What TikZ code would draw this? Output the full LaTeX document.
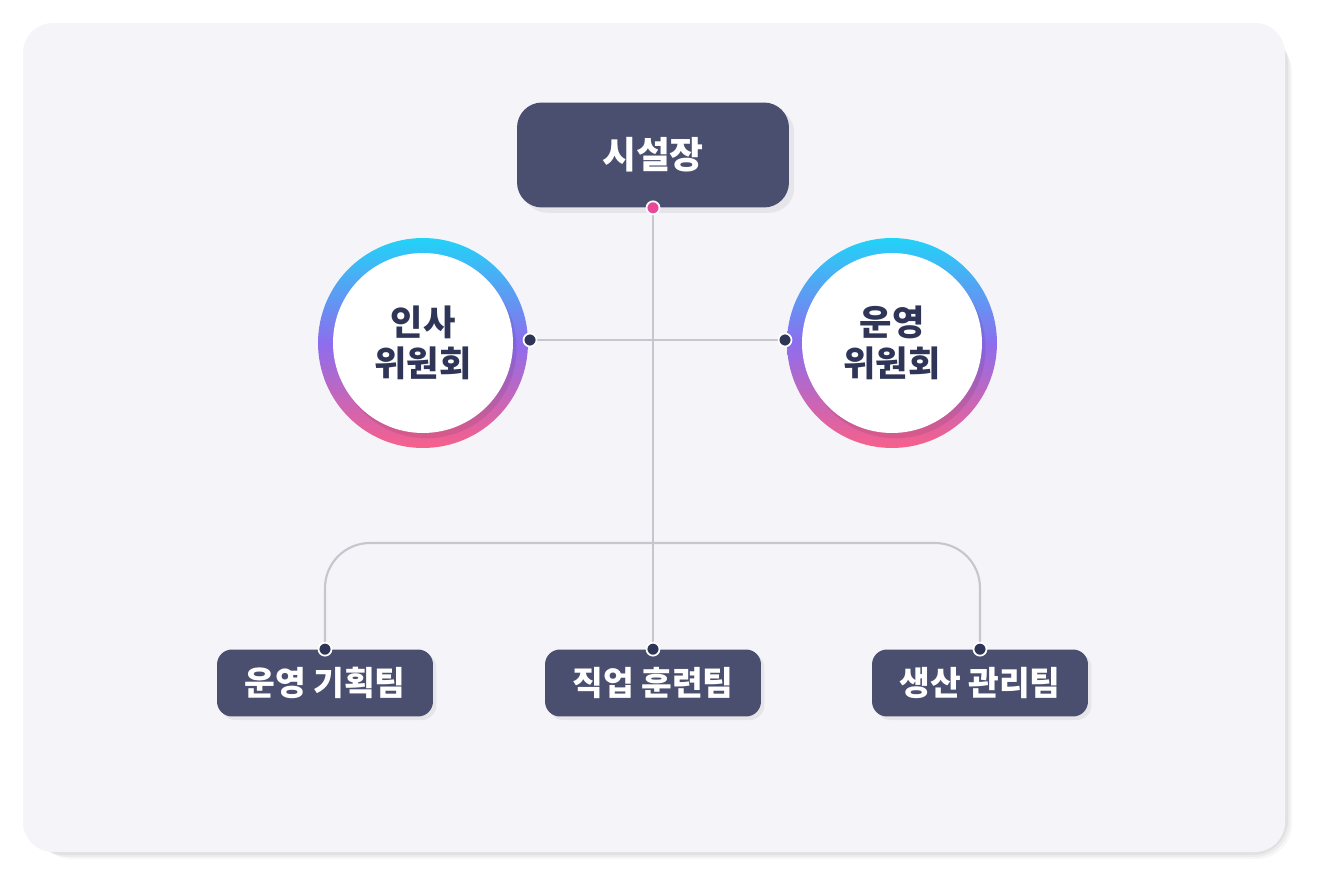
\documentclass[tikz,border=0pt]{standalone}
\usepackage{fontspec}
\setmainfont{Noto Sans CJK KR}
\usetikzlibrary{positioning, shadows}
\usepackage{xcolor}
\definecolor{panelbg}{HTML}{F4F4F9}
\definecolor{navybox}{HTML}{4A4F70}
\definecolor{navytext}{HTML}{2F3556}
\definecolor{linkgray}{HTML}{C6C6CC}
\definecolor{pinkdot}{HTML}{E8479A}
\definecolor{ringtop}{HTML}{22D3F8}
\definecolor{ringmid}{HTML}{8D6DEE}
\definecolor{ringbot}{HTML}{F7608A}

\begin{document}
\begin{tikzpicture}[x=0.02cm, y=-0.02cm,
    headbox/.style={fill=navybox, rounded corners=0.5cm, text=white,
        minimum width=5.44cm, minimum height=2.1cm, inner sep=0pt,
        font=\fontsize{21pt}{24pt}\selectfont\bfseries,
        drop shadow={shadow xshift=3pt, shadow yshift=-3pt, opacity=0.12}},
    teambox/.style={fill=navybox, rounded corners=0.3cm, text=white,
        minimum width=4.32cm, minimum height=1.34cm, inner sep=0pt,
        font=\fontsize{19pt}{22pt}\selectfont\bfseries,
        drop shadow={shadow xshift=2pt, shadow yshift=-2pt, opacity=0.12}},
    ring/.style={circle, minimum size=4.2cm, inner sep=0pt, outer sep=0pt,
        top color=ringtop, bottom color=ringbot, middle color=ringmid,
        align=center, text=navytext,
        font=\fontsize{20pt}{23pt}\selectfont\bfseries,
        path picture={
            \fill[black, opacity=0.08] ([xshift=2pt, yshift=-3pt]path picture bounding box.center) circle (1.8cm);
            \fill[white] (path picture bounding box.center) circle (1.8cm);}},
    link/.style={draw=linkgray, line width=1.2pt},
    pin/.style={fill=navytext, draw=white, line width=1pt},
]
\useasboundingbox (0,0) rectangle (1320,892);

% panel
\foreach \s/\o in {14/0.03, 10/0.04, 6/0.05}
    \fill[black, opacity=\o, rounded corners=0.7cm] (23+\s,23+\s) rectangle (1285+\s*0.5,852+\s*0.5);
\fill[panelbg, rounded corners=0.6cm] (23,23) rectangle (1285,852);

% nodes
\node[headbox] (chief) at (653,155) {시설장};
\node[ring] (hrcom) at (423,343) {인사\\위원회};
\node[ring] (opcom) at (892,343) {운영\\위원회};
\node[teambox] (plan) at (325,683) {운영 기획팀};
\node[teambox] (train) at (653,683) {직업 훈련팀};
\node[teambox] (prod) at (980,683) {생산 관리팀};

% connectors
\coordinate (bus) at (653,543);
\coordinate (hrpin) at (530,340);
\coordinate (oppin) at (785,340);
\draw[link] (chief.south) -- (train.north);
\draw[link] (hrpin) -- (oppin);
\draw[link, rounded corners=0.9cm] (plan.north) |- (bus) -| (prod.north);

% pins
\filldraw[pin] (hrpin) circle (6.5);
\filldraw[pin] (oppin) circle (6.5);
\filldraw[pin] (plan.north) circle (6.5);
\filldraw[pin] (train.north) circle (6.5);
\filldraw[pin] (prod.north) circle (6.5);
\filldraw[pin, fill=pinkdot] (chief.south) circle (6.5);
\end{tikzpicture}
\end{document}
